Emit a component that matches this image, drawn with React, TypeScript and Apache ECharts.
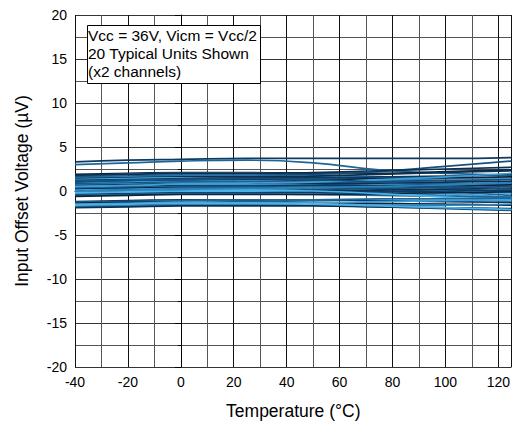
import React, { useEffect, useRef } from "react";
import * as echarts from "echarts";

const temps = [-40, -20, 0, 25, 50, 75, 100, 125];

const u01 = [3.3, 3.5, 3.6, 3.7, 3.7, 3.7, 3.7, 3.8];
const u02 = [3.0, 3.2, 3.4, 3.5, 3.2, 2.4, 2.0, 1.8];
const u03 = [1.9, 2.0, 2.1, 2.1, 2.0, 2.0, 2.2, 2.4];
const u04 = [1.7, 1.9, 2.0, 2.0, 1.8, 1.6, 1.5, 1.4];
const u05 = [1.6, 1.7, 1.8, 1.8, 1.9, 2.2, 2.8, 3.4];
const u06 = [1.5, 1.6, 1.7, 1.7, 1.6, 1.4, 1.2, 1.0];
const u07 = [1.4, 1.5, 1.6, 1.6, 1.7, 1.9, 2.1, 2.3];
const u08 = [1.3, 1.4, 1.5, 1.5, 1.4, 1.2, 0.9, 0.6];
const u09 = [1.2, 1.3, 1.4, 1.5, 1.5, 1.6, 1.7, 1.9];
const u10 = [1.1, 1.2, 1.3, 1.3, 1.2, 1.0, 0.8, 0.5];
const u11 = [1.0, 1.1, 1.2, 1.3, 1.3, 1.4, 1.5, 1.6];
const u12 = [0.9, 1.0, 1.1, 1.1, 1.0, 0.8, 0.5, 0.2];
const u13 = [0.8, 0.9, 1.0, 1.0, 1.0, 1.1, 1.2, 1.3];
const u14 = [0.7, 0.8, 0.9, 0.9, 0.8, 0.6, 0.3, -0.1];
const u15 = [0.6, 0.7, 0.8, 0.8, 0.8, 0.9, 1.0, 1.1];
const u16 = [0.5, 0.6, 0.7, 0.7, 0.6, 0.4, 0.1, -0.3];
const u17 = [0.4, 0.5, 0.6, 0.6, 0.6, 0.6, 0.7, 0.8];
const u18 = [0.3, 0.4, 0.5, 0.5, 0.4, 0.2, -0.1, -0.5];
const u19 = [0.2, 0.3, 0.4, 0.4, 0.4, 0.5, 0.6, 0.7];
const u20 = [0.1, 0.2, 0.3, 0.3, 0.2, 0.0, -0.3, -0.7];
const u21 = [0.0, 0.1, 0.2, 0.2, 0.2, 0.3, 0.4, 0.5];
const u22 = [-0.1, 0.0, 0.1, 0.1, 0.0, -0.2, -0.5, -0.9];
const u23 = [-0.2, -0.1, 0.0, 0.0, 0.0, 0.1, 0.2, 0.3];
const u24 = [-0.3, -0.2, -0.1, -0.1, -0.2, -0.4, -0.6, -0.8];
const u25 = [-0.4, -0.3, -0.2, -0.2, -0.2, -0.1, 0.0, 0.1];
const u26 = [-0.5, -0.4, -0.3, -0.3, -0.4, -0.5, -0.6, -0.7];
const u27 = [-0.6, -0.5, -0.4, -0.4, -0.4, -0.3, -0.2, -0.1];
const u28 = [0.5, 0.6, 0.8, 0.9, 1.0, 1.3, 1.6, 2.0];
const u29 = [1.0, 1.2, 1.3, 1.4, 1.3, 1.0, 0.6, 0.2];
const u30 = [0.0, 0.1, 0.2, 0.3, 0.4, 0.5, 0.7, 0.9];
const u31 = [1.8, 1.9, 2.0, 2.0, 2.1, 2.3, 2.5, 2.7];
const u32 = [-0.2, -0.1, 0.0, 0.1, 0.0, -0.3, -0.7, -1.2];
const u33 = [-1.2, -1.1, -1.0, -1.0, -1.0, -1.1, -1.2, -1.3];
const u34 = [-1.3, -1.2, -1.1, -1.0, -1.0, -0.9, -0.9, -0.8];
const u35 = [-1.4, -1.3, -1.3, -1.2, -1.3, -1.4, -1.5, -1.6];
const u36 = [-1.5, -1.4, -1.3, -1.3, -1.3, -1.2, -1.1, -1.0];
const u37 = [-1.7, -1.6, -1.5, -1.5, -1.6, -1.8, -2.0, -2.2];
const u38 = [-1.8, -1.7, -1.6, -1.6, -1.6, -1.6, -1.6, -1.5];
const u39 = [-1.9, -1.8, -1.7, -1.7, -1.7, -1.8, -1.9, -2.0];
const u40 = [-1.6, -1.5, -1.4, -1.4, -1.5, -1.7, -1.9, -2.1];

const units = [
  u01, u02, u03, u04, u05, u06, u07, u08, u09, u10,
  u11, u12, u13, u14, u15, u16, u17, u18, u19, u20,
  u21, u22, u23, u24, u25, u26, u27, u28, u29, u30,
  u31, u32, u33, u34, u35, u36, u37, u38, u39, u40,
];

const palette = ["#0e3a61", "#1f6698", "#0a2540", "#3d9fd6", "#16507f", "#2a83bd", "#0c3050", "#4bb2e6"];

const noteLines = ["Vcc = 36V, Vicm = Vcc/2", "20 Typical Units Shown", "(x2 channels)"];

export default function App() {
  const ref = useRef<HTMLDivElement>(null);
  useEffect(() => {
    if (!ref.current) return;
    const chart = echarts.init(ref.current, null, { renderer: "svg" });
    const font = "'Liberation Sans', Arial, sans-serif";
    chart.setOption({
      animation: false,
      textStyle: { fontFamily: font },
      grid: { left: 75, right: 1, top: 15, bottom: 58, containLabel: false },
      xAxis: {
        type: "value",
        min: -40,
        max: 125,
        interval: 20,
        name: "Temperature (°C)",
        nameLocation: "middle",
        nameGap: 35,
        nameTextStyle: { color: "#000", fontSize: 17.5, fontFamily: font },
        axisLine: { show: true, lineStyle: { color: "#000", width: 1 } },
        axisTick: { show: true, inside: false, length: 6, lineStyle: { color: "#000" } },
        minorTick: { show: true, splitNumber: 2, length: 3, lineStyle: { color: "#000" } },
        axisLabel: { color: "#000", fontSize: 14, fontFamily: font, margin: 8 },
        splitLine: { show: true, lineStyle: { color: "#111", width: 1 } },
        minorSplitLine: { show: true, lineStyle: { color: "#555", width: 1 } },
      },
      yAxis: {
        type: "value",
        min: -20,
        max: 20,
        interval: 5,
        name: "Input Offset Voltage (µV)",
        nameLocation: "middle",
        nameGap: 44,
        nameTextStyle: { color: "#000", fontSize: 17.5, fontFamily: font },
        axisLine: { show: true, lineStyle: { color: "#000", width: 1 } },
        axisTick: { show: true, inside: false, length: 6, lineStyle: { color: "#000" } },
        minorTick: { show: true, splitNumber: 2, length: 3, lineStyle: { color: "#000" } },
        axisLabel: { color: "#000", fontSize: 14, fontFamily: font, margin: 8 },
        splitLine: { show: true, lineStyle: { color: "#333", width: 1 } },
        minorSplitLine: { show: true, lineStyle: { color: "#555", width: 1 } },
      },
      series: units.map((vals, i) => ({
        type: "line",
        name: "Unit " + (i + 1),
        data: temps.map((t, j) => [t, vals[j]]),
        smooth: true,
        showSymbol: false,
        symbol: "none",
        lineStyle: { color: palette[i % palette.length], width: 1.7 },
        z: 3,
      })),
      graphic: [
        {
          type: "rect",
          left: 87,
          top: 25,
          z: 100,
          shape: { x: 0, y: 0, width: 173, height: 58 },
          style: { fill: "#fff", stroke: "#000", lineWidth: 1 },
        },
        ...noteLines.map((t, i) => ({
          type: "text",
          left: 88,
          top: 27 + i * 18,
          z: 101,
          style: { text: t, fill: "#000", font: `15.5px ${font}` },
        })),
      ],
    });
    return () => chart.dispose();
  }, []);
  return <div ref={ref} style={{ position: "fixed", left: 0, top: 0, width: 513, height: 425, background: "#fff" }} />;
}
